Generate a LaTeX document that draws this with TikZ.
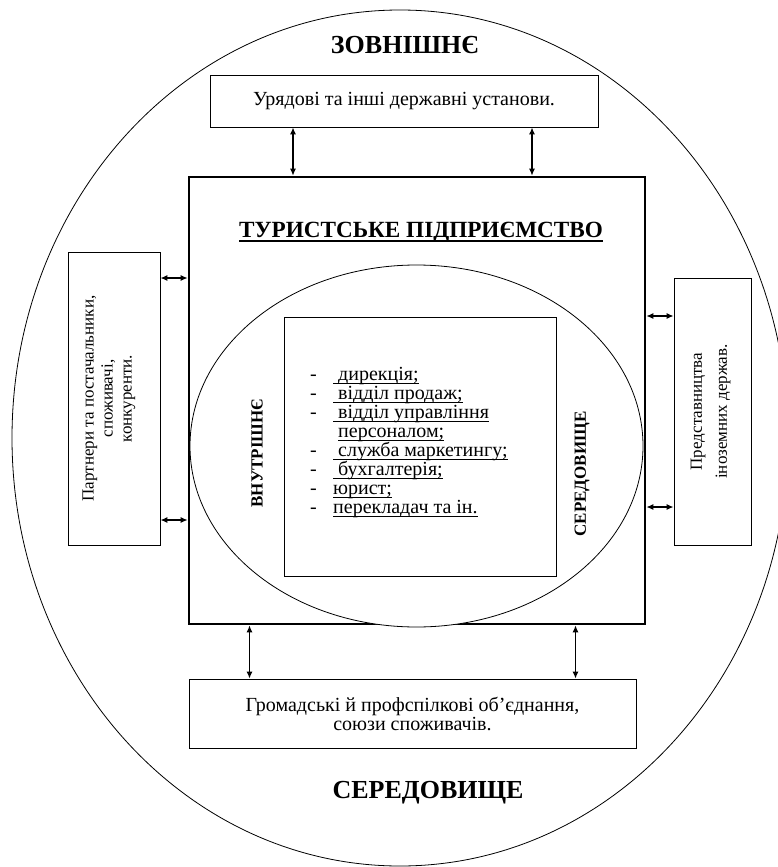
\documentclass[tikz,border=0pt]{standalone}
\usepackage{fontspec}
\setmainfont{Liberation Serif}
\usetikzlibrary{arrows.meta,calc,positioning,shapes.geometric}

\newcommand{\ulthick}[1]{\setbox0=\hbox{#1}\rlap{\rule[-4.8pt]{\wd0}{2.3pt}}\box0}
\newcommand{\ulthin}[1]{\setbox0=\hbox{#1}\rlap{\rule[-2.8pt]{\wd0}{0.8pt}}\box0}
\newcommand{\dashitem}{\makebox[23pt][l]{-}}

\tikzset{
  frame/.style={draw, line width=0.8pt, inner sep=0pt},
  biarr/.style={line width=1.3pt, {Latex[length=7pt,width=6pt]}-{Latex[length=7pt,width=6pt]}},
  bigcap/.style={font=\fontsize{26}{30}\selectfont\bfseries},
  sidecap/.style={font=\fontsize{17}{20}\selectfont\bfseries, rotate=90},
  plain/.style={font=\fontsize{17}{19}\selectfont, align=center},
  wide/.style={font=\fontsize{20}{19}\selectfont, align=center}
}

\begin{document}
\begin{tikzpicture}[x=1pt,y=-1pt]
\useasboundingbox (0,0) rectangle (777,867);
\node[frame, ellipse, minimum width=776pt, minimum height=856pt] (env) at (400,438) {};
\node[bigcap] (outer) at (405,45) {ЗОВНІШНЄ};
\node[bigcap] (medium) at (428,793) {СЕРЕДОВИЩЕ};

\node[frame, wide, minimum width=388pt, minimum height=52pt] (gov) at (404,101) {Урядові та інші державні установи.};
\node[frame, line width=2.6pt, minimum width=456pt, minimum height=447pt] (firm) at (417,400.5) {};
\node[font=\fontsize{23.2}{26}\selectfont\bfseries] (firmname) at (421,232) {\ulthick{ТУРИСТСЬКЕ ПІДПРИЄМСТВО}};
\node[frame, ellipse, fill=white, minimum width=453pt, minimum height=362pt] (inner) at (416.5,446) {};
\node[frame, minimum width=272pt, minimum height=259pt] (staff) at (420,446.5) {};
\node[anchor=north west, inner sep=0pt, align=left, font=\fontsize{20}{19}\selectfont] (stafflist) at (310,367.3) {%
  \dashitem\ulthin{\ дирекція;}\\
  \dashitem\ulthin{\ відділ продаж;}\\
  \dashitem\ulthin{\ відділ управління}\\
  \hspace*{23pt}\phantom{\ }\ulthin{персоналом;}\\
  \dashitem\ulthin{\ служба маркетингу;}\\
  \dashitem\ulthin{\ бухгалтерія;}\\
  \dashitem\ulthin{юрист;}\\
  \dashitem\ulthin{перекладач та ін.}};
\node[sidecap] (innerlbl) at (257,453) {ВНУТРІШНЄ};
\node[sidecap] (mediumlbl) at (582,474) {СЕРЕДОВИЩЕ};

\node[frame, minimum width=92pt, minimum height=293pt] (partners) at (114,398.5) {};
\node[plain, rotate=90] (partnerstxt) at ([xshift=-5pt]partners.center) {Партнери та постачальники,\\ споживачі,\\ конкуренти.};
\node[frame, minimum width=77pt, minimum height=267pt] (foreign) at (712.5,411.5) {};
\node[plain, rotate=90] (foreigntxt) at ([xshift=-2pt]foreign.center) {Представництва\\[6pt] іноземних держав.};
\node[frame, wide, minimum width=447pt, minimum height=69pt] (public) at (412.5,713.5) {Громадські й профспілкові об’єднання,\\ союзи споживачів.};

\foreach \s in {-111,128} \draw[biarr] ([xshift=\s pt]gov.south) -- ([xshift=\s pt]gov.south |- firm.north);
\foreach \s in {120.5,-121.5} \draw[biarr] ([yshift=\s pt]partners.east) -- ([yshift=\s pt]partners.east -| firm.west);
\foreach \s in {95.5,-95.5} \draw[biarr] ([yshift=\s pt]foreign.west) -- ([yshift=\s pt]foreign.west -| firm.east);
\foreach \s in {-163,163} \draw[biarr] ([xshift=\s pt]public.north) -- ([xshift=\s pt]public.north |- firm.south);
\end{tikzpicture}
\end{document}
